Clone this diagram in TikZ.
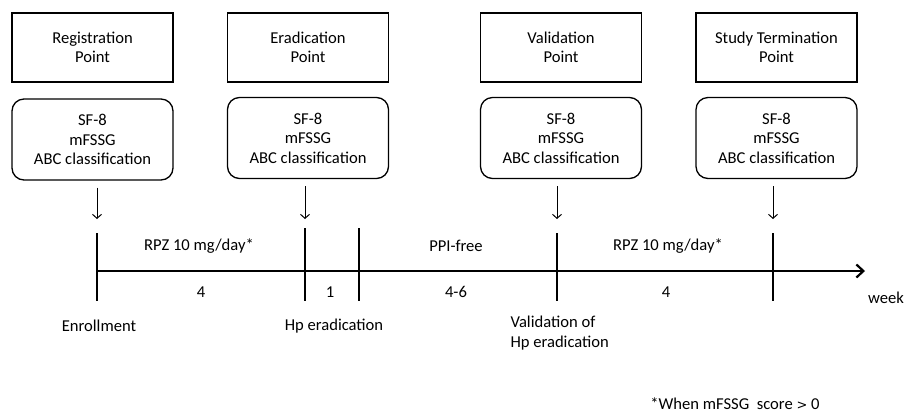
\documentclass[tikz,border=0pt]{standalone}
\usepackage{fontspec}
\setmainfont{Carlito}
\usetikzlibrary{arrows.meta}

\begin{document}
\begin{tikzpicture}[x=1pt,y=-1pt,font=\fontsize{16.6}{19.5}\selectfont,
  point/.style={draw,line width=1.3pt,minimum width=161pt,minimum height=69pt,inner sep=0pt,align=center},
  survey/.style={draw,line width=1.3pt,rounded corners=12pt,minimum width=161pt,minimum height=81pt,inner sep=0pt,align=center},
  tick/.style={line width=1.5pt},
  arr/.style={-{Straight Barb[length=4pt,width=9pt]},line width=1pt,shorten <=7pt}]

  \useasboundingbox (0,0) rectangle (909,416);

  % time points
  \node[point] (p1) at (92.5,47.5) {Registration\\Point};
  \node[point] (p2) at (308,47.5) {Eradication\\Point};
  \node[point] (p3) at (561,47.5) {Validation\\Point};
  \node[point] (p4) at (776.5,47.5) {Study Termination\\Point};

  \node[survey] (s1) at (92.5,139.5) {SF-8\\mFSSG\\ABC classification};
  \node[survey] (s2) at (308,138) {SF-8\\mFSSG\\ABC classification};
  \node[survey] (s3) at (561,138) {SF-8\\mFSSG\\ABC classification};
  \node[survey] (s4) at (776.5,138) {SF-8\\mFSSG\\ABC classification};

  % axis
  \coordinate (start) at (97,271);
  \coordinate (end) at (865,271);
  \draw[line width=2.2pt,-{Straight Barb[length=7pt,width=13pt]}] (start) -- (end);
  \foreach \x/\top in {97/233,305/228,359/228,557/233,773/233}
    \draw[tick] (\x,\top) -- (\x,301);

  \coordinate (a1) at (97,219);
  \coordinate (a2) at (305,219);
  \coordinate (a3) at (557,219);
  \coordinate (a4) at (773,219);
  \draw[arr] (s1.south -| a1) -- (a1);
  \draw[arr] (s2.south -| a2) -- (a2);
  \draw[arr] (s3.south -| a3) -- (a3);
  \draw[arr] (s4.south -| a4) -- (a4);

  % periods
  \node (rpz1) at (199,246) {RPZ 10 mg/day*};
  \node (free) at (456,246) {PPI-free};
  \node (rpz2) at (668,246) {RPZ 10 mg/day*};
  \node (w1) at (201,292) {4};
  \node (w2) at (330,292) {1};
  \node (w3) at (456,292) {4-6};
  \node (w4) at (666,292) {4};
  \node (week) at (886,298) {week};

  % events
  \node (enrol) at (99,326) {Enrollment};
  \node (hp) at (334,326) {Hp eradication};
  \node[align=left,anchor=west] (valid) at (507,333) {Validation of\\Hp eradication};
  \node (note) at (735,404) {*When mFSSG\ \ score {\fontspec{DejaVu Sans}\fontsize{13}{15}\selectfont>} 0};
\end{tikzpicture}
\end{document}
